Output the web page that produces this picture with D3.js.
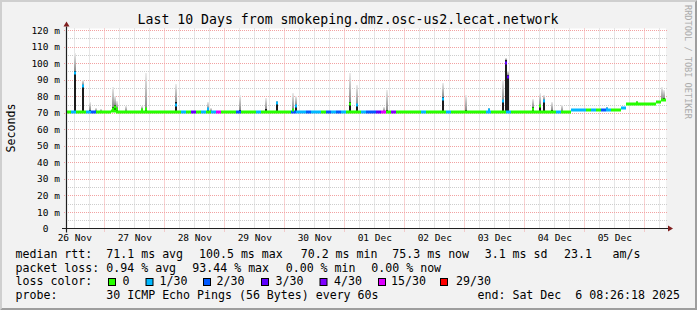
<!DOCTYPE html>
<html>
<head>
<meta charset="utf-8">
<script src="https://cdn.jsdelivr.net/npm/d3@7"></script>
<style>
  html, body { margin: 0; padding: 0; background: #f2f2f2; }
  svg { display: block; }
  text { font-family: "DejaVu Sans Mono", monospace; white-space: pre; }
</style>
</head>
<body>
<svg id="chart"></svg>
<script>
// ---- data ----
const titleText = "Last 10 Days from smokeping.dmz.osc-us2.lecat.network";
const viewStart = "2025-11-26T08:41Z";
const viewEnd = "2025-12-06T08:41Z";
const binHours = 2;

// median rtt (ms) per 2 hour bin
const medianBins = [
  70.6, 70.7, 70.6, 70.5, 70.6, 70.6, 70.5, 70.6, 70.6, 71.0,
  70.6, 70.6, 70.5, 70.6, 70.6, 70.7, 70.6, 70.6, 70.5, 70.6,
  70.6, 70.6, 70.7, 70.6, 70.6, 70.5, 70.6, 70.6, 70.6, 70.5,
  70.6, 70.6, 70.5, 70.6, 70.6, 70.6, 70.7, 70.6, 70.6, 70.5,
  70.6, 70.6, 70.6, 70.5, 70.6, 70.6, 70.6, 70.5, 70.6, 70.6,
  70.6, 70.5, 70.6, 70.6, 70.6, 70.5, 70.6, 70.6, 70.6, 70.5,
  70.6, 70.5, 70.6, 70.6, 70.5, 70.6, 70.6, 70.6, 70.6, 70.5,
  70.6, 70.6, 70.6, 70.6, 70.6, 70.5, 70.6, 70.6, 70.6, 70.6,
  70.6, 70.6, 70.5, 70.6, 70.6, 70.6, 70.6, 70.7, 70.6, 70.6,
  70.6, 70.6, 70.6, 70.6, 70.6, 70.6, 70.6, 70.6, 70.6, 70.6,
  70.6, 71.4, 71.4, 71.5, 71.4, 71.4, 71.5, 71.4, 71.4, 71.5,
  71.5, 73.2, 75.2, 75.2, 75.3, 75.3, 75.4, 75.5, 76.3, 77.6
];
// loss class per bin (index into lossLabels)
const lossBins = [
  0, 1, 0, 0, 1, 2, 0, 0, 0, 0,
  0, 0, 0, 0, 0, 0, 0, 0, 0, 0,
  0, 0, 0, 1, 0, 3, 0, 1, 0, 1,
  5, 0, 0, 0, 2, 0, 0, 0, 1, 0,
  0, 0, 0, 0, 0, 2, 1, 1, 2, 1,
  1, 0, 2, 1, 2, 1, 0, 0, 0, 1,
  2, 2, 3, 5, 0, 4, 0, 0, 0, 0,
  0, 1, 0, 0, 0, 0, 1, 0, 0, 0,
  0, 0, 0, 0, 1, 0, 0, 0, 1, 0,
  0, 0, 0, 0, 0, 0, 0, 0, 1, 0,
  0, 1, 1, 1, 0, 1, 0, 2, 1, 0,
  0, 1, 0, 0, 0, 0, 0, 0, 0, 0
];

// smoke spikes: hours after viewStart, median, top of dense smoke, top of light smoke, loss class
const spikeHours  = [3.2, 6.4, 9.2, 11.6, 13.6, 18.3, 19.2, 20.0, 23.6, 30.0, 31.7, 43.6, 56.5, 57.6, 69.2, 79.7, 84.0, 90.5, 91.6, 113.3, 115.9, 126.9, 127.9, 150.3, 159.6, 168.6, 174.3, 175.4, 176.2, 186.3, 189.3, 190.7, 193.9, 198.0, 216.0, 228.0, 238.0, 238.9];
const spikeMedian = [94, 86, 70.8, 70.8, 70.8, 72.5, 73.5, 72.5, 70.8, 71.5, 72, 75, 72, 70.8, 70.8, 71, 76, 71.5, 74, 75.5, 74.5, 70.8, 70.8, 78.5, 70.8, 71.5, 77, 100, 91.5, 72.5, 74, 77, 70.8, 70.8, 72.5, 76, 78, 78];
const spikeDark   = [95, 87, 71.5, 71, 71, 73.6, 75, 73, 71, 72.5, 73, 76.6, 72.5, 71, 71.5, 72, 76.6, 72, 74.5, 76.6, 75, 71, 71.5, 79.3, 71.5, 72, 77.6, 101.7, 93, 73.6, 75, 77.6, 71.5, 71, 73, 76.5, 78.5, 79];
const spikeLight  = [106, 90, 76.6, 73, 72.5, 85.7, 80, 77, 74, 74, 93.8, 87.7, 76.6, 73, 80.7, 79, 77, 81.7, 80, 93.8, 86.7, 73.6, 84, 88.1, 80.7, 73, 89.7, 103, 95, 78.6, 81.7, 80.7, 76.6, 75, 73.5, 77, 85.7, 83.7];
const spikeLoss   = [1, 1, 0, 0, 0, 0, 0, 0, 0, 0, 0, 1, 1, 0, 0, 0, 1, 0, 1, 0, 1, 0, 0, 1, 0, 1, 1, 3, 3, 0, 0, 1, 0, 0, 1, 0, 0, 0];

const lossLabels = ["0", "1/30", "2/30", "3/30", "4/30", "15/30", "29/30"];
const lossColors = ["#26ff00", "#00b8ff", "#0059ff", "#5e00ff", "#7e00ff", "#dd00ff", "#ff0000"];

const yTicks = [0, 10, 20, 30, 40, 50, 60, 70, 80, 90, 100, 110, 120];
const yMinor = [5, 15, 25, 35, 45, 55, 65, 75, 85, 95, 105, 115];

const rttStats = ["71.1 ms avg", "100.5 ms max", "70.2 ms min", "75.3 ms now", "3.1 ms sd", "23.1", "am/s"];
const lossStats = ["0.94 % avg", "93.44 % max", "0.00 % min", "0.00 % now"];
const probeText = "30 ICMP Echo Pings (56 Bytes) every 60s";
const endText = "end: Sat Dec  6 08:26:18 2025";

// ---- layout ----
const width = 697, height = 310;
const parseT = d3.utcParse("%Y-%m-%dT%H:%MZ");
const t0 = parseT(viewStart), t1 = parseT(viewEnd);
const at = (h) => d3.utcMinute.offset(t0, Math.round(h * 60));

const x = d3.scaleUtc().domain([t0, t1]).range([66, 666]);
const y = d3.scaleLinear().domain([0, 121]).range([228.5, 28.5]);

const svg = d3.select("#chart").attr("width", width).attr("height", height);

// background + bevel
svg.append("rect").attr("width", width).attr("height", height).attr("fill", "#f2f2f2");
svg.append("path").attr("fill", "#cfcfcf")
  .attr("d", `M0,0H${width}L${width - 2},2H2V${height - 2}L0,${height}Z`);
svg.append("path").attr("fill", "#9e9e9e")
  .attr("d", `M${width},0V${height}H0L2,${height - 2}H${width - 2}V2Z`);

// canvas
svg.append("rect")
  .attr("x", x.range()[0]).attr("y", y(121))
  .attr("width", x.range()[1] - x.range()[0]).attr("height", y(0) - y(121))
  .attr("fill", "#ffffff");

// grid
const grid = svg.append("g").attr("stroke-dasharray", "1,1").attr("stroke-width", 1);
const midnights = d3.utcDay.range(d3.utcDay.ceil(t0), t1);
const sixHours = d3.utcHour.every(6).range(t0, t1).filter((d) => d.getUTCHours() !== 0);

grid.selectAll(".vmin").data(sixHours).join("line")
  .attr("x1", (d) => Math.round(x(d)) + 0.5).attr("x2", (d) => Math.round(x(d)) + 0.5)
  .attr("y1", y(121)).attr("y2", y(0))
  .attr("stroke", "#cdcdcd");
grid.selectAll(".hmin").data(yMinor).join("line")
  .attr("x1", x.range()[0]).attr("x2", x.range()[1] + 2)
  .attr("y1", (d) => Math.round(y(d)) + 0.5).attr("y2", (d) => Math.round(y(d)) + 0.5)
  .attr("stroke", "#cdcdcd");
grid.selectAll(".vmaj").data(midnights).join("line")
  .attr("x1", (d) => Math.round(x(d)) + 0.5).attr("x2", (d) => Math.round(x(d)) + 0.5)
  .attr("y1", y(121)).attr("y2", y(0) + 3)
  .attr("stroke", "#f2a2a2");
grid.selectAll(".hmaj").data(yTicks.filter((d) => d > 0)).join("line")
  .attr("x1", x.range()[0] - 2).attr("x2", x.range()[1] + 2)
  .attr("y1", (d) => Math.round(y(d)) + 0.5).attr("y2", (d) => Math.round(y(d)) + 0.5)
  .attr("stroke", "#f2a2a2");

// smoke
const defs = svg.append("defs");
const grad = defs.append("linearGradient").attr("id", "smoke")
  .attr("x1", 0).attr("y1", 0).attr("x2", 0).attr("y2", 1);
grad.append("stop").attr("offset", "0%").attr("stop-color", "#ededed");
grad.append("stop").attr("offset", "100%").attr("stop-color", "#8c8c8c");

const spikes = spikeHours.map((h, i) => ({
  t: at(h), t2: at(h + 0.8),
  base: medianBins[Math.floor(h / binHours)],
  med: spikeMedian[i], dark: spikeDark[i], light: spikeLight[i], loss: spikeLoss[i]
}));

const colX = (d) => Math.round(x(d.t));
const colW = (d) => Math.max(1, Math.round(x(d.t2)) - Math.round(x(d.t)));

const smoke = svg.append("g");
smoke.selectAll(".light").data(spikes).join("rect")
  .attr("x", colX).attr("width", colW)
  .attr("y", (d) => Math.round(y(d.light)))
  .attr("height", (d) => Math.max(1, Math.round(y(Math.max(d.dark, d.base))) - Math.round(y(d.light))))
  .attr("fill", "url(#smoke)");
smoke.selectAll(".dark").data(spikes.filter((d) => d.dark > d.base)).join("rect")
  .attr("x", colX).attr("width", colW)
  .attr("y", (d) => Math.round(y(d.dark)))
  .attr("height", (d) => Math.max(1, Math.round(y(d.base)) - Math.round(y(d.dark))))
  .attr("fill", "#1c1c1c");

// median line coloured by loss
const bins = medianBins.map((v, i) => ({
  t: at(i * binHours), t2: at((i + 1) * binHours), v: v, loss: lossBins[i]
}));
svg.append("g").selectAll("rect").data(bins).join("rect")
  .attr("x", (d) => Math.round(x(d.t)))
  .attr("width", (d) => Math.round(x(d.t2)) - Math.round(x(d.t)))
  .attr("y", (d) => Math.round(y(d.v)) - 1.5)
  .attr("height", 3)
  .attr("fill", (d) => lossColors[d.loss]);

svg.append("g").selectAll("rect").data(spikes.filter((d) => d.med > d.base + 0.6)).join("rect")
  .attr("x", colX).attr("width", colW)
  .attr("y", (d) => Math.round(y(d.med)) - 1.5)
  .attr("height", 3)
  .attr("fill", (d) => lossColors[d.loss]);

// axes
const yAxis = d3.axisLeft(y).tickValues(yTicks).tickSize(0).tickPadding(6)
  .tickFormat((v) => (v === 0 ? "0  " : v + " m"));
svg.append("g").attr("transform", `translate(${x.range()[0]},0)`)
  .call(yAxis)
  .call((g) => g.select(".domain").remove())
  .attr("font-family", "DejaVu Sans Mono").attr("font-size", 9.5)
  .selectAll("text").attr("fill", "#000");

const noons = d3.utcDay.range(d3.utcDay.floor(t0), t1)
  .map((d) => d3.utcHour.offset(d, 12))
  .filter((d) => d < t1);
const xAxis = d3.axisBottom(x).tickValues(noons).tickSize(0).tickPadding(0)
  .tickFormat(d3.utcFormat("%d %b"));
svg.append("g").attr("transform", `translate(0,${y(0)})`)
  .call(xAxis)
  .call((g) => g.select(".domain").remove())
  .attr("font-family", "DejaVu Sans Mono").attr("font-size", 9.5)
  .selectAll("text").attr("y", 12.5).attr("dy", 0).attr("fill", "#000");

// axis lines and arrows
const x0 = x.range()[0], x1 = x.range()[1], y0 = y(0), yTop = y(121);
svg.append("line").attr("x1", x0 - 4).attr("x2", x1 + 3).attr("y1", y0).attr("y2", y0)
  .attr("stroke", "#1f1f1f").attr("stroke-width", 1.2);
svg.append("line").attr("x1", x0 + 0.5).attr("x2", x0 + 0.5).attr("y1", y0 + 4).attr("y2", yTop - 2)
  .attr("stroke", "#1f1f1f").attr("stroke-width", 1.2);
svg.append("path").attr("fill", "#801f1f")
  .attr("d", `M${x1 + 2},${y0 - 3}L${x1 + 2},${y0 + 3}L${x1 + 7},${y0}Z`);
svg.append("path").attr("fill", "#801f1f")
  .attr("d", `M${x0 - 2.5},${yTop - 2}L${x0 + 3.5},${yTop - 2}L${x0 + 0.5},${yTop - 7}Z`);

// title, unit, watermark
svg.append("text").attr("x", 348).attr("y", 24).attr("text-anchor", "middle")
  .attr("font-size", 13.2).text(titleText);
svg.append("text").attr("transform", "translate(15,128) rotate(-90)").attr("text-anchor", "middle")
  .attr("font-size", 11.6).text("Seconds");
svg.append("text").attr("transform", "translate(684.5,5) rotate(90)")
  .attr("font-size", 8.6).attr("fill", "#ababab").text("RRDTOOL / TOBI OETIKER");

// legend
const legend = svg.append("g").attr("font-size", 11.6).attr("fill", "#000");
const rowY = [258, 271.5, 285, 298.5];
legend.append("text").attr("x", 15.5).attr("y", rowY[0]).text("median rtt:");
legend.append("text").attr("x", 15.5).attr("y", rowY[1]).text("packet loss:");
legend.append("text").attr("x", 15.5).attr("y", rowY[2]).text("loss color:");
legend.append("text").attr("x", 15.5).attr("y", rowY[3]).text("probe:");

const rttX = [106.3, 199, 300.7, 392.3, 484.7, 564, 612.5];
legend.selectAll(".rtt").data(rttStats).join("text")
  .attr("x", (d, i) => rttX[i]).attr("y", rowY[0]).text((d) => d);
const lossX = [106.3, 192.3, 285.7, 371.3];
legend.selectAll(".pl").data(lossStats).join("text")
  .attr("x", (d, i) => lossX[i]).attr("y", rowY[1]).text((d) => d);

const swatchX = [108.5, 146, 203.5, 261.5, 320, 378.5, 440.5];
const swatchLabelX = [122.5, 159.5, 216.5, 275.5, 334, 391, 456];
legend.selectAll(".sw").data(lossColors).join("rect")
  .attr("x", (d, i) => swatchX[i]).attr("y", 278.5).attr("width", 7).attr("height", 7)
  .attr("fill", (d) => d).attr("stroke", "#000").attr("stroke-width", 1);
legend.selectAll(".swl").data(lossLabels).join("text")
  .attr("x", (d, i) => swatchLabelX[i]).attr("y", rowY[2]).text((d) => d);

legend.append("text").attr("x", 106.3).attr("y", rowY[3]).text(probeText);
legend.append("text").attr("x", 477.5).attr("y", rowY[3]).text(endText);
</script>
</body>
</html>
